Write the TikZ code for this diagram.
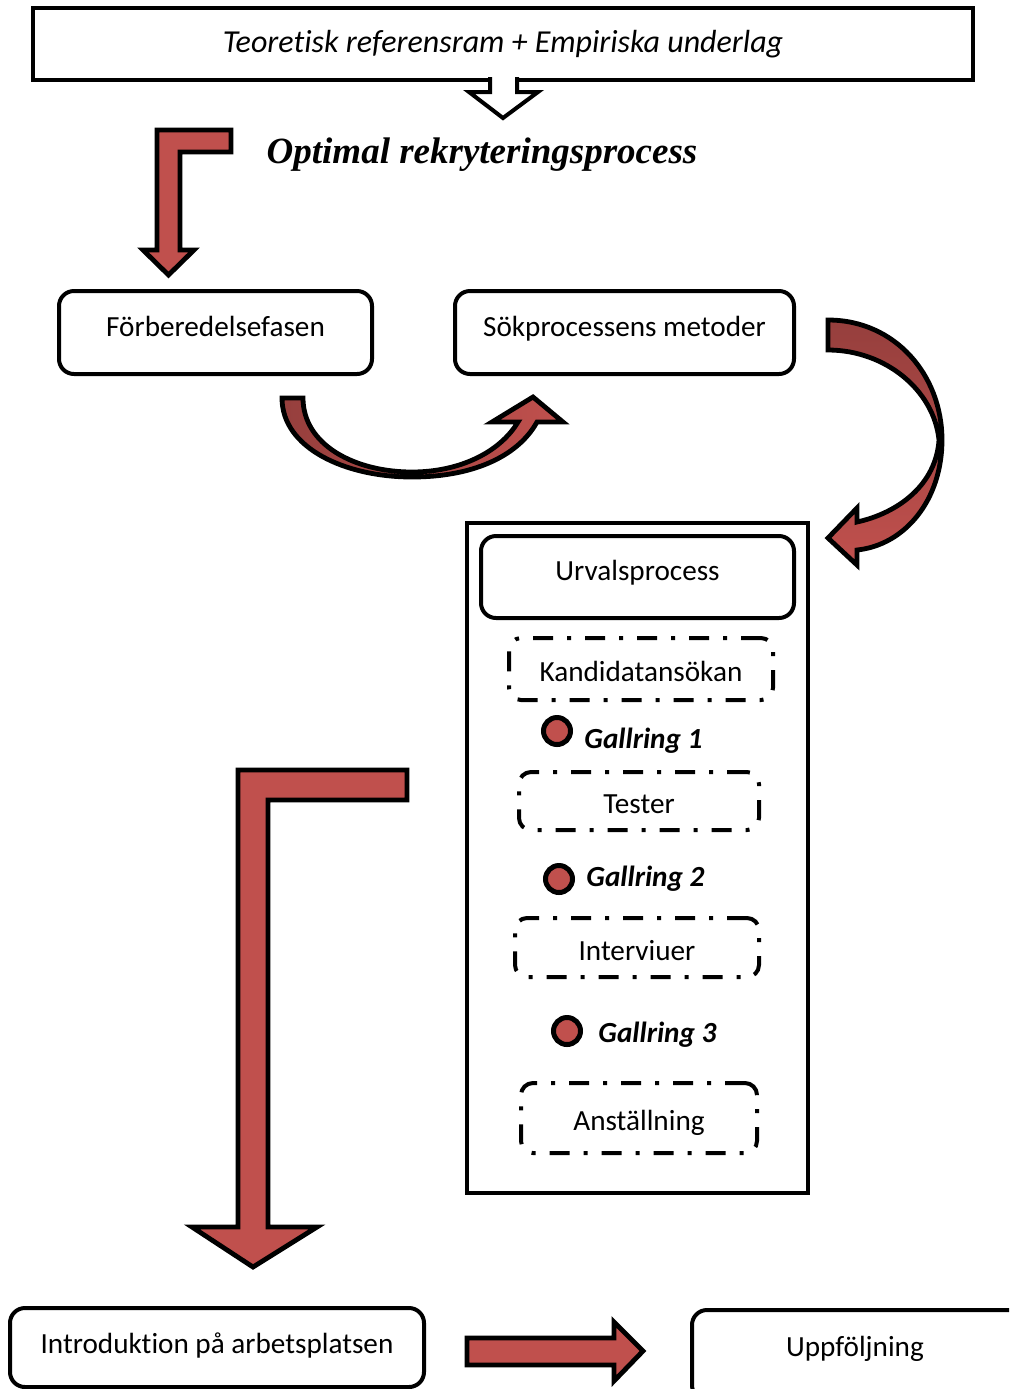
\documentclass[tikz,border=0pt]{standalone}
\usepackage{fontspec}
\setmainfont{Carlito}[Ligatures={TeX,NoCommon}]
\newfontfamily\titlefont{Liberation Serif}
\usepackage{xcolor}
\usetikzlibrary{positioning}

\definecolor{arrowred}{RGB}{192,80,77}
\definecolor{arrowdark}{RGB}{150,63,61}

\tikzset{
  box/.style={draw, line width=2pt, rounded corners=7.5pt, align=center,
    text height=8pt, text depth=4.25pt, font=\fontsize{14.6}{17}\selectfont},
  stagebox/.style={box, rounded corners=6pt, text height=12.5pt, text depth=0pt,
    dash pattern=on 10pt off 7pt on 2pt off 7pt},
  blockarrow/.style={draw, line width=2.4pt, fill=arrowred, line join=miter},
  gallringdot/.style={circle, draw, line width=2.5pt, fill=arrowred,
    minimum size=13.5pt, inner sep=0pt},
  gallringtext/.style={anchor=base west, inner sep=0pt,
    font=\fontsize{14.6}{17}\selectfont\bfseries\itshape},
}

\begin{document}
\begin{tikzpicture}[x=0.5pt,y=0.5pt,yscale=-1]
\useasboundingbox (0,0) rectangle (1009,1389);
\clip (0,0) rectangle (1009,1389);

% Top box
\node[box, rounded corners=0pt, minimum width=470pt, minimum height=36pt,
  text height=10pt, text depth=2pt, font=\fontsize{16}{19}\selectfont\itshape]
  (ref) at (503,44) {Teoretisk referensram + Empiriska underlag};
%Shape: hollow down arrow
\draw[line width=2pt, fill=white, line join=miter]
  (490,77) -- (490,92) -- (469,92) -- (503,118) -- (538,92) -- (517,92) -- (517,77);

% Title
\node[anchor=base, inner sep=0pt, font=\titlefont\fontsize{18.5}{22}\selectfont\bfseries\itshape]
  (title) at (482,163) {Optimal rekryteringsprocess};

%Shape: bent arrow, top left
\draw[blockarrow] (157,130) -- (231,130) -- (231,152) -- (180,152) -- (180,250)
  -- (194,250) -- (168.5,275) -- (143,250) -- (157,250) -- cycle;

% Phase boxes
\node[box, minimum width=156.5pt, minimum height=41.5pt] (forb) at (215.5,332.5) {Förberedelsefasen};
\node[box, minimum width=169.5pt, minimum height=41.5pt] (sok) at (624.5,332.5) {Sökprocessens metoder};

%Shape: curved up arrow
\draw[line width=2.4pt, left color=arrowdark, right color=arrowred, line join=miter]
  (282,398) .. controls (282,448) and (345,477) .. (412,477)
  .. controls (470,477) and (517,458) .. (537,422)
  -- (563,422) -- (533,397) -- (492,422) -- (518,422)
  .. controls (500,452) and (460,472) .. (412,472)
  .. controls (355,472) and (303,445) .. (303,398) -- cycle;

%Shape: curved down arrow
\draw[line width=2.4pt, top color=arrowdark, bottom color=arrowred, line join=miter]
  (828,320) .. controls (895,320) and (942,375) .. (942,440)
  .. controls (942,500) and (905,545) .. (857,550)
  -- (857,565) -- (828,538) -- (857,508) -- (857,522)
  .. controls (898,513) and (936,485) .. (939,440)
  .. controls (934,390) and (885,350) .. (828,350) -- cycle;

% Selection frame
\node[draw, line width=2pt, minimum width=170.5pt, minimum height=335pt, inner sep=0pt]
  (frame) at (637.5,858) {};
\node[box, minimum width=156.5pt, minimum height=41pt] (urval) at (637.5,577) {Urvalsprocess};

% Steps
\node[stagebox, minimum width=132pt, minimum height=31pt] (kand) at (641,669) {Kandidatansökan};
\node[stagebox, minimum width=120pt, minimum height=29pt] (test) at (639,801) {Tester};
\node[stagebox, minimum width=122pt, minimum height=29.5pt] (intv) at (637,947.5) {Interviuer};
\node[stagebox, minimum width=118pt, minimum height=35pt] (anst) at (639,1118) {Anställning};

% Gallring
\node[gallringdot] (g1) at (557,731) {};
\node[gallringtext] (g1text) at (584,748) {Gallring 1};
\node[gallringdot] (g2) at (559,879) {};
\node[gallringtext] (g2text) at (586,886) {Gallring 2};
\node[gallringdot] (g3) at (567,1031) {};
\node[gallringtext] (g3text) at (598,1042) {Gallring 3};

%Shape: bent arrow, long
\draw[blockarrow] (238,770) -- (407,770) -- (407,800) -- (268,800) -- (268,1227)
  -- (317,1227) -- (253,1267) -- (192,1227) -- (238,1227) -- cycle;

% Bottom row
\node[box, minimum width=207pt, minimum height=39.5pt, text height=9.5pt, text depth=4pt]
  (intro) at (217,1347.5) {Introduktion på arbetsplatsen};
%Shape: right arrow
\draw[blockarrow] (467,1338) -- (614,1338) -- (614,1322) -- (643,1351)
  -- (614,1381) -- (614,1365) -- (467,1365) -- cycle;
\node[box, minimum width=169pt, minimum height=45pt] (uppf) at (861,1355) {};
\node[inner sep=0pt, anchor=base, font=\fontsize{14.6}{17}\selectfont] (uppftext) at (855,1356) {Uppföljning};

\end{tikzpicture}
\end{document}
